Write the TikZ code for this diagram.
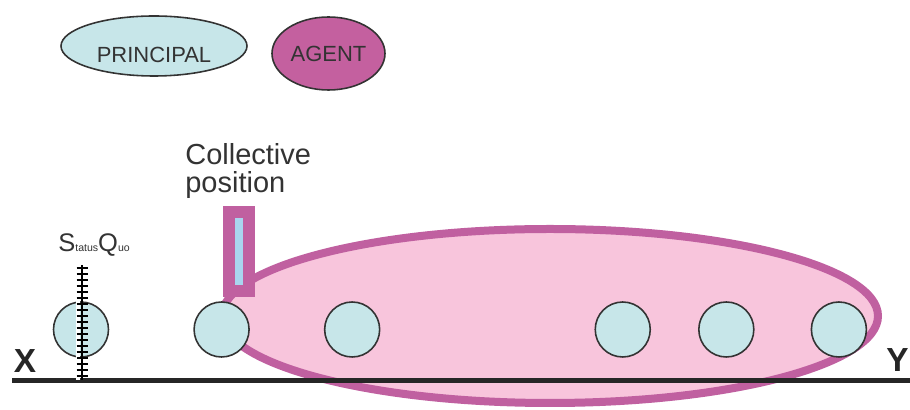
\documentclass[tikz,border=0pt]{standalone}
\usepackage{fontspec}
\setmainfont{Liberation Sans}
\usepackage{tikz}
\usetikzlibrary{positioning}
\usetikzlibrary{shapes.geometric}

\definecolor{ink}{RGB}{51,51,51}
\definecolor{axisink}{RGB}{38,38,38}
\definecolor{principalblue}{RGB}{199,230,233}
\definecolor{agentpink}{RGB}{196,96,159}
\definecolor{setpink}{RGB}{248,197,220}
\definecolor{setline}{RGB}{192,96,160}
\definecolor{markerblue}{RGB}{169,213,239}

\begin{document}
\begin{tikzpicture}[
    member/.style={draw=ink, line width=0.9pt, fill=principalblue, circle, minimum size=1.1cm, inner sep=0pt},
    role/.style={draw=ink, line width=0.9pt, ellipse, inner sep=0pt, text=ink, font=\fontsize{12.5}{14}\selectfont},
    axislabel/.style={inner sep=0pt, text=axisink, font=\fontsize{19}{20}\selectfont\bfseries}
]
    \useasboundingbox (0,0) rectangle (18.2,8.2);

    \node [role, fill=principalblue, minimum width=3.72cm, minimum height=1.2cm, text height=0.68cm, text depth=0pt] (principal) at (3.08,7.28) {PRINCIPAL};
    \node [role, fill=agentpink, minimum width=2.26cm, minimum height=1.46cm] (agent) at (6.57,7.13) {AGENT};

    \node [ellipse, draw=setline, line width=0.16cm, fill=setpink, minimum width=13.12cm, minimum height=3.48cm, inner sep=0pt] (coalition) at (11.0,1.88) {};
    \node [draw=setline, line width=0.24cm, fill=markerblue, minimum width=0.4cm, minimum height=1.58cm, inner sep=0pt] (marker) at (4.78,3.17) {};

    \node [member] (c1) at (1.62,1.61) {};
    \node [member, right=1.68cm of c1] (c2) {};
    \node [member, right=1.48cm of c2] (c3) {};
    \node [member, right=4.28cm of c3] (c4) {};
    \node [member, right=0.94cm of c4] (c5) {};
    \node [member, right=1.12cm of c5] (c6) {};

    \coordinate (xend) at (0.24,0.59);
    \coordinate (yend) at (18.2,0.59);
    \draw [axisink, line width=2.6pt] (xend) -- (yend);
    \node [axislabel] (xlab) at (0.50,0.97) {X};
    \node [axislabel, anchor=east] (ylab) at (18.18,0.99) {Y};

    \coordinate (sqtop) at (1.64,2.90);
    \coordinate (sqfoot) at (1.64,0.60);
    \draw [white, line width=0.08cm] ([xshift=-0.07cm]sqtop) -- ([xshift=-0.07cm]sqfoot);
    \draw [black, line width=0.8pt] (sqtop) -- (sqfoot);
    \foreach \k in {0,...,18}
        \draw [black, line width=0.6pt] ([xshift=-0.11cm, yshift=-0.06cm-\k*0.12cm]sqtop) -- ++(0.22,0);
    \node [anchor=base west, inner sep=0pt, text=ink, font=\fontsize{14.5}{16}\selectfont] (statusquo) at (1.16,3.16) {S{\fontsize{6}{6}\selectfont tatus}Q{\fontsize{6}{6}\selectfont uo}};

    \node [anchor=north west, align=left, inner sep=0pt, text=ink, font=\fontsize{16.5}{16}\selectfont] (collective) at (3.70,5.34) {Collective\\position};

\end{tikzpicture}
\end{document}
